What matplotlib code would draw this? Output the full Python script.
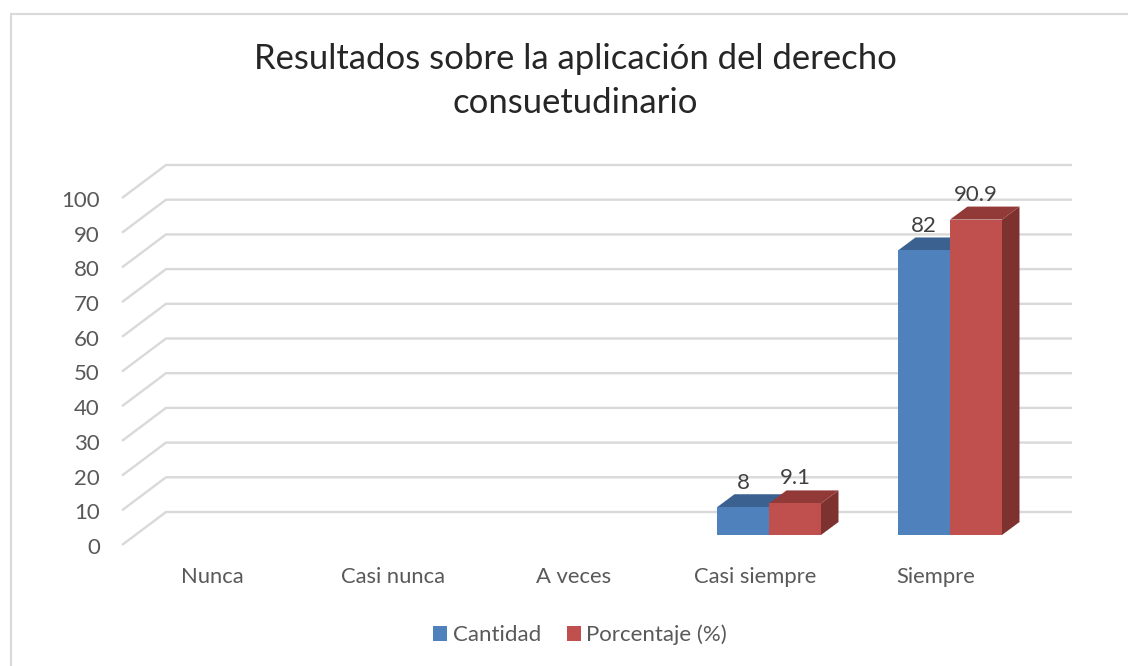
#!/usr/bin/env python3
import matplotlib.pyplot as plt
from matplotlib.lines import Line2D
from matplotlib.patches import Polygon

categories = ["Nunca", "Casi nunca", "A veces", "Casi siempre", "Siempre"]
cantidad = [0, 0, 0, 8, 82]
porcentaje = [0, 0, 0, 9.1, 90.9]
yticks = [0, 10, 20, 30, 40, 50, 60, 70, 80, 90, 100]

W, H = 1128, 666
PX_X = 181.0     # pixels per category
PX_Y = 3.47      # pixels per unit
BAR_W = 52 / PX_X
GRID = "#d9d9d9"
TXT = "#595959"

plt.rcParams['font.family'] = ['Lato', 'DejaVu Sans']


def box(ax, x0, x1, val, front, top, side):
    dx = 17.5 / PX_X
    dy = 13 / PX_Y
    if val <= 0:
        return
    ax.add_patch(Polygon([(x1, 0), (x1 + dx, dy), (x1 + dx, val + dy), (x1, val)],
                         fc=side, ec="none", clip_on=False, zorder=3))
    ax.add_patch(Polygon([(x0, val), (x0 + dx, val + dy), (x1 + dx, val + dy), (x1, val)],
                         fc=top, ec="none", clip_on=False, zorder=3))
    ax.add_patch(Polygon([(x0, 0), (x1, 0), (x1, val), (x0, val)],
                         fc=front, ec="none", clip_on=False, zorder=4))


def plot_chart():
    fig = plt.figure(figsize=(W / 100, H / 100), dpi=100)
    left = 226 - 0.5 * PX_X
    ax = fig.add_axes([left / W, (H - 535) / H, 5 * PX_X / W, 100 * PX_Y / H])
    ax.set_xlim(-0.5, 4.5)
    ax.set_ylim(0, 100)
    ax.axis("off")

    # chart frame, only left and top are inside the picture
    fig.add_artist(Line2D([10.5 / W, 10.5 / W, 1], [0, 1 - 14 / H, 1 - 14 / H],
                          color=GRID, lw=1.5, transform=fig.transFigure,
                          solid_joinstyle="miter"))

    fx, fy = -13.5 / PX_X, -10 / PX_Y    # front edge of the floor
    bx, by = 30.5 / PX_X, 23 / PX_Y      # back wall
    xend = -0.5 + (1072 - left) / PX_X
    for v in yticks:
        ax.plot([-0.5 + fx, -0.5 + bx, xend], [v + fy, v + by, v + by],
                color=GRID, lw=1.7, clip_on=False, zorder=1,
                solid_joinstyle="miter", solid_capstyle="butt")
        ax.text(-0.5 + fx - 22 / PX_X, v + fy - 3 / PX_Y, str(v), ha="right", va="center",
                fontsize=16, color=TXT)

    for i, name in enumerate(categories):
        ax.text(i - 14 / PX_X, -42 / PX_Y, name, ha="center", va="center",
                fontsize=15.8, color=TXT)

    for i in range(len(categories)):
        box(ax, i - BAR_W, i, cantidad[i], "#4f81bd", "#3a6190", "#3a6190")
        box(ax, i, i + BAR_W, porcentaje[i], "#c0504d", "#923a37", "#7e3230")
        if cantidad[i] > 0:
            ax.text(i - BAR_W / 2, cantidad[i] + 24 / PX_Y, str(cantidad[i]),
                    ha="center", va="center", fontsize=16, color="#404040", zorder=6)
        if porcentaje[i] > 0:
            ax.text(i + BAR_W / 2, porcentaje[i] + 25 / PX_Y, str(porcentaje[i]),
                    ha="center", va="center", fontsize=16, color="#404040", zorder=6)

    fig.text(575 / W, 1 - 81 / H, "Resultados sobre la aplicación del derecho\nconsuetudinario",
             ha="center", va="center", fontsize=24.9, color="#262626", linespacing=1.45)

    # legend
    handles = [plt.Rectangle((0, 0), 1, 1, fc="#4f81bd"), plt.Rectangle((0, 0), 1, 1, fc="#c0504d")]
    fig.legend(handles, ["Cantidad", "Porcentaje (%)"], loc="center", ncol=2,
               bbox_to_anchor=(580 / W, 1 - 635 / H), frameon=False, fontsize=16,
               labelcolor=TXT, handlelength=0.63, handleheight=0.63, handletextpad=0.23,
               columnspacing=1.17)

    fig.savefig("out.png", dpi=100, facecolor="white")


if __name__ == '__main__':
    plot_chart()
    print("DONE")
